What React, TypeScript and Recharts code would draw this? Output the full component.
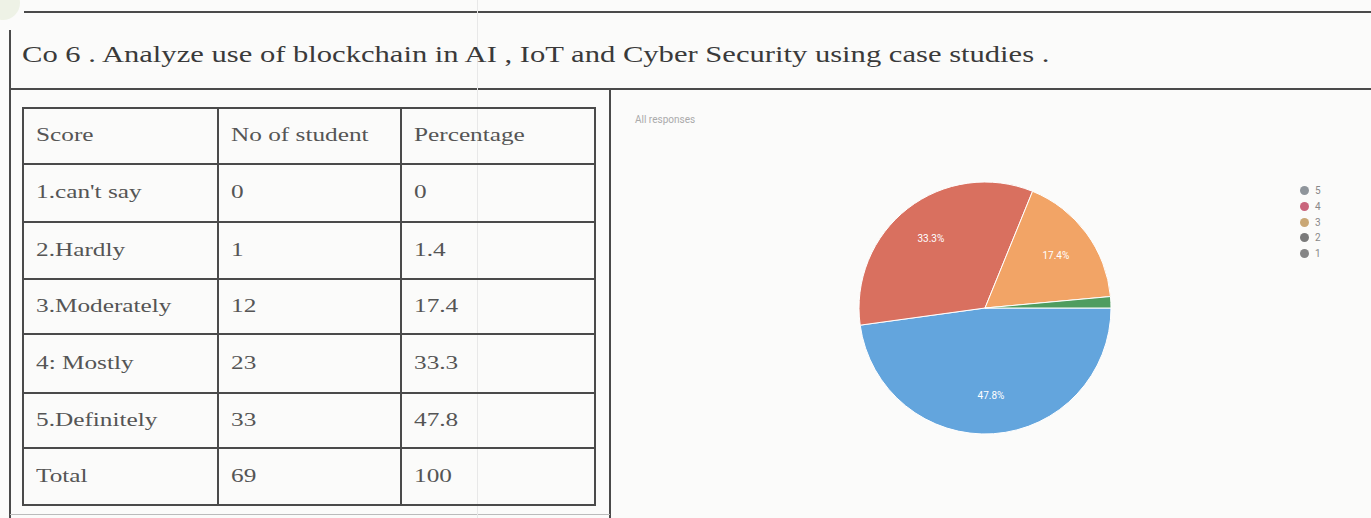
import { PieChart, Pie, Cell, Legend } from "recharts";

// pie series (Google Forms order: 5 -> 1)
const categories = ["5", "4", "3", "2", "1"];
const students = [33, 23, 12, 1, 0];

// table columns
const scoreLabels = ["1.can't say", "2.Hardly", "3.Moderately", "4: Mostly", "5.Definitely", "Total"];
const studentCounts = [0, 1, 12, 23, 33, 69];
const percentages = [0, 1.4, 17.4, 33.3, 47.8, 100];
const headers = ["Score", "No of student", "Percentage"];

const COLORS = [
  "#63a5dd", // 5
  "#d9705f", // 4
  "#f2a466", // 3
  "#4f9d5f", // 2
  "#9a9a9a", // 1
];
const LEGEND_COLORS = ["#8f959b", "#c9657c", "#c9a775", "#7a7a7a", "#858585"];

const LINE = "#4a4a4a";
const TEXT = "#555";
const SERIF = "'Liberation Serif', 'Times New Roman', serif";
// the scan is stretched sideways
const STRETCH = "scaleX(1.33)";

const RADIAN = Math.PI / 180;

const renderLabel = (props: any) => {
  const { cx, cy, midAngle, outerRadius, percent } = props;
  if (percent < 0.05) return null;
  const r = outerRadius * 0.7;
  const x = cx + r * Math.cos(-midAngle * RADIAN);
  const y = cy + r * Math.sin(-midAngle * RADIAN);
  return (
    <text x={x} y={y} fill="#fff" textAnchor="middle" dominantBaseline="central" fontSize={10} fontFamily="Roboto, sans-serif">
      {`${(percent * 100).toFixed(1)}%`}
    </text>
  );
};

const renderLegend = () => (
  <div style={{ fontFamily: "Roboto, sans-serif", fontSize: 10, color: "#888" }}>
    {categories.map((c, i) => (
      <div key={c} style={{ display: "flex", alignItems: "center", height: 15.7 }}>
        <span style={{ width: 9, height: 9, borderRadius: "50%", background: LEGEND_COLORS[i], marginRight: 6 }} />
        <span>{c}</span>
      </div>
    ))}
  </div>
);

const rowTops = [107, 163, 221, 278, 333, 392, 447, 504];
const colLefts = [22, 217, 400, 594];

const App = () => {
  const pieData = categories.map((name, i) => ({ name, value: students[i] }));
  const rows = [headers, ...scoreLabels.map((s, i) => [s, String(studentCounts[i]), String(percentages[i])])];

  return (
    <div style={{ position: "absolute", left: 0, top: 0, width: 1371, height: 518, background: "#fbfbfa", overflow: "hidden", fontFamily: SERIF }}>
      {/* frame lines */}
      <div style={{ position: "absolute", left: 24, top: 11, width: 1347, height: 2, background: LINE }} />
      <div style={{ position: "absolute", left: 10, top: 88, width: 1361, height: 2, background: LINE }} />
      <div style={{ position: "absolute", left: 9, top: 30, width: 2, height: 488, background: LINE }} />
      <div style={{ position: "absolute", left: 609, top: 89, width: 2, height: 429, background: LINE }} />
      <div style={{ position: "absolute", left: 10, top: 514, width: 600, height: 1, background: "#bbb" }} />
      <div style={{ position: "absolute", left: 477, top: 0, width: 1, height: 518, background: "#e8e8e8" }} />
      <div style={{ position: "absolute", left: -14, top: -14, width: 34, height: 34, borderRadius: "50%", background: "#eef2e6" }} />

      <div style={{ position: "absolute", left: 22, top: 42, fontSize: 23, color: "#3a3a3a", whiteSpace: "nowrap", transform: STRETCH, transformOrigin: "left center" }}>
        Co 6 . Analyze use of blockchain in AI , IoT and Cyber Security using case studies .
      </div>

      {/* table */}
      {rowTops.map((y, i) => (
        <div key={`h${i}`} style={{ position: "absolute", left: colLefts[0], top: y, width: colLefts[3] - colLefts[0] + 2, height: 2, background: LINE }} />
      ))}
      {colLefts.map((x, i) => (
        <div key={`v${i}`} style={{ position: "absolute", left: x, top: rowTops[0], width: 2, height: rowTops[7] - rowTops[0] + 2, background: LINE }} />
      ))}
      {rows.map((r, ri) =>
        r.map((t, ci) => (
          <div
            key={`${ri}-${ci}`}
            style={{
              position: "absolute",
              left: colLefts[ci] + 14,
              top: rowTops[ri],
              height: rowTops[ri + 1] - rowTops[ri],
              display: "flex",
              alignItems: "center",
              fontSize: 19,
              color: TEXT,
              whiteSpace: "nowrap",
              transform: STRETCH,
              transformOrigin: "left center",
            }}
          >
            {t}
          </div>
        ))
      )}

      <div style={{ position: "absolute", left: 635, top: 114, fontSize: 10, color: "#aaa", fontFamily: "Roboto, sans-serif" }}>
        All responses
      </div>

      <div style={{ position: "absolute", left: 620, top: 95 }}>
        <PieChart width={740} height={420}>
          <Pie
            data={pieData}
            dataKey="value"
            nameKey="name"
            cx={360}
            cy={208}
            outerRadius={126}
            startAngle={0}
            endAngle={-360}
            stroke="#fff"
            strokeWidth={1}
            label={renderLabel}
            labelLine={false}
            isAnimationActive={false}
          >
            {pieData.map((_, i) => (
              <Cell key={i} fill={COLORS[i]} />
            ))}
          </Pie>
          <Legend
            layout="vertical"
            align="right"
            verticalAlign="top"
            content={renderLegend}
            wrapperStyle={{ left: 680, top: 88, width: 40 }}
          />
        </PieChart>
      </div>
    </div>
  );
};

export default App;
